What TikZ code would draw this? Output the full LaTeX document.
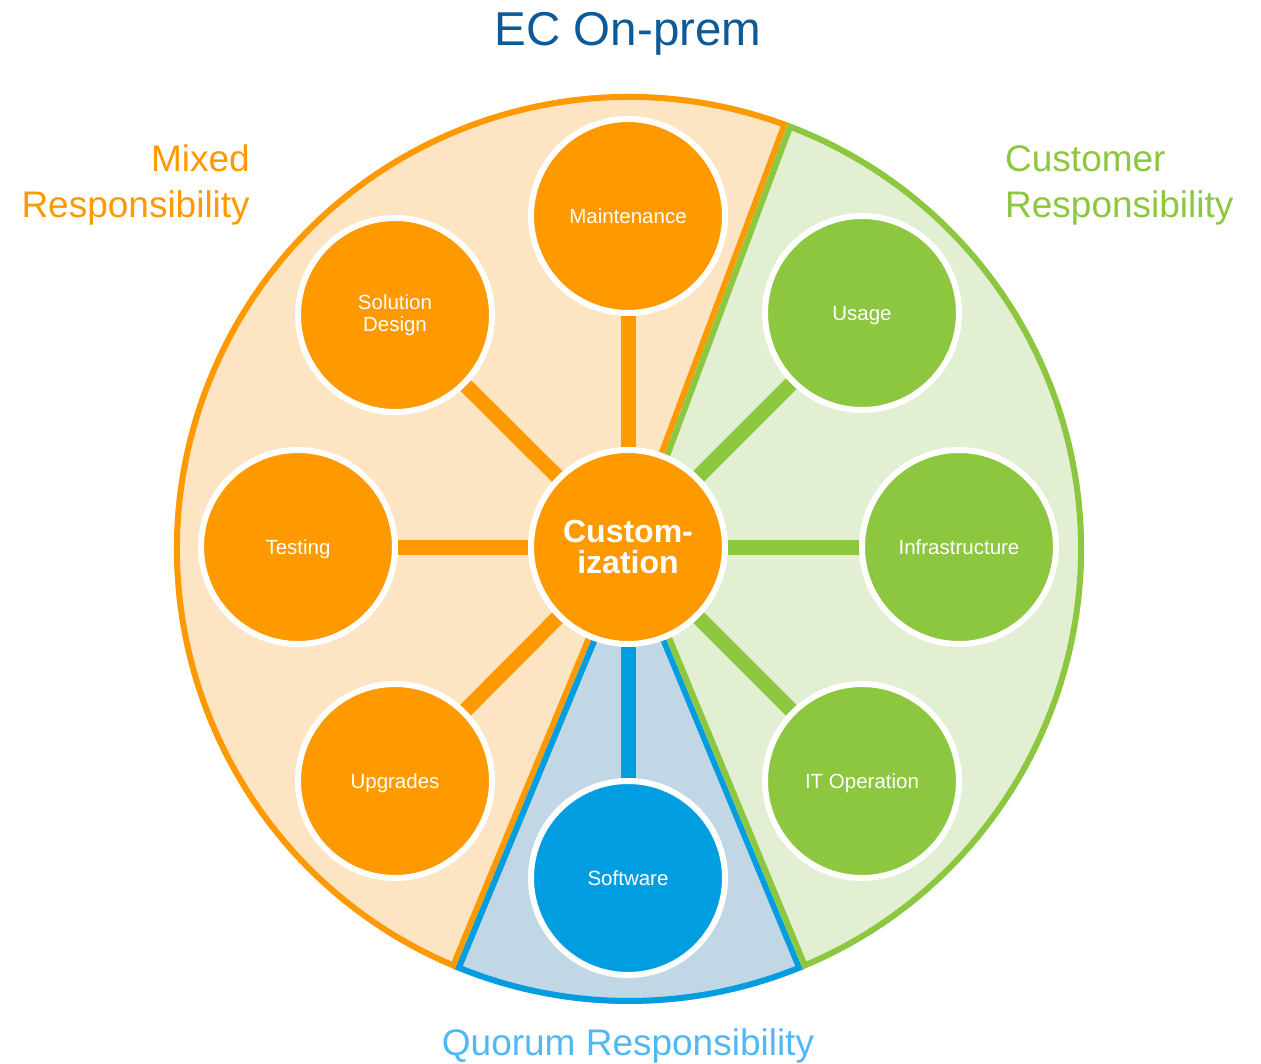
\documentclass[tikz,border=0pt]{standalone}
\usepackage{fontspec}
\setmainfont{Liberation Sans}
\definecolor{orline}{RGB}{255,153,0}
\definecolor{orfill}{RGB}{253,229,196}
\definecolor{grline}{RGB}{141,198,63}
\definecolor{grfill}{RGB}{226,239,211}
\definecolor{blline}{RGB}{0,158,224}
\definecolor{blfill}{RGB}{194,215,229}
\definecolor{titleblue}{RGB}{13,90,150}
\definecolor{quorumblue}{RGB}{80,185,245}
\pgfdeclarelayer{sectors}
\pgfdeclarelayer{spokes}
\pgfsetlayers{sectors,spokes,main}
\tikzset{
  bub/.style={circle, minimum size=194pt, inner sep=0pt, draw=white, line width=6pt,
    text=white, font=\fontsize{20.5}{22}\selectfont, align=center},
  oneline/.style={text height=15pt, text depth=0pt},
  spoke/.style={line width=15pt},
  grouplabel/.style={inner sep=0pt, font=\fontsize{37}{46}\selectfont}
}
\begin{document}
\begin{tikzpicture}[x=1pt,y=-1pt]
\useasboundingbox (0,0) rectangle (1261,1064);
\coordinate (c) at (629,549);

% circles
\node[bub, fill=orline, font=\bfseries\fontsize{32}{31}\selectfont] (cust) at (628,547) {Custom-\\ization};
\node[bub, oneline, fill=orline] (maint) at (628,216) {Maintenance};
\node[bub, fill=orline] (soldes) at (395,315) {Solution\\Design};
\node[bub, oneline, fill=orline] (test) at (298,547) {Testing};
\node[bub, oneline, fill=orline] (upg) at (395,781) {Upgrades};
\node[bub, oneline, fill=grline] (usage) at (862,313) {Usage};
\node[bub, oneline, fill=grline] (infra) at (959,547) {Infrastructure};
\node[bub, oneline, fill=grline] (itop) at (862,781) {IT Operation};
\node[bub, oneline, fill=blline] (soft) at (628,878) {Software};

% sectors
\begin{pgfonlayer}{sectors}
\begin{scope}
\clip (c) -- ++(-69.5:455) arc[start angle=-69.5,end angle=-247.5,radius=455] -- cycle;
\fill[orfill] (c) -- ++(-69.5:455) arc[start angle=-69.5,end angle=-247.5,radius=455] -- cycle;
\draw[orline, line width=12pt] (c) -- ++(-69.5:455) arc[start angle=-69.5,end angle=-247.5,radius=455] -- cycle;
\end{scope}
\begin{scope}
\clip (c) -- ++(-247.5:455) arc[start angle=-247.5,end angle=-292.5,radius=455] -- cycle;
\fill[blfill] (c) -- ++(-247.5:455) arc[start angle=-247.5,end angle=-292.5,radius=455] -- cycle;
\draw[blline, line width=12pt] (c) -- ++(-247.5:455) arc[start angle=-247.5,end angle=-292.5,radius=455] -- cycle;
\end{scope}
\begin{scope}
\clip (c) -- ++(67.5:455) arc[start angle=67.5,end angle=-69.5,radius=455] -- cycle;
\fill[grfill] (c) -- ++(67.5:455) arc[start angle=67.5,end angle=-69.5,radius=455] -- cycle;
\draw[grline, line width=12pt] (c) -- ++(67.5:455) arc[start angle=67.5,end angle=-69.5,radius=455] -- cycle;
\end{scope}
\end{pgfonlayer}

% spokes
\begin{pgfonlayer}{spokes}
\draw[spoke, orline] (cust) -- (maint);
\draw[spoke, orline] (cust) -- (soldes);
\draw[spoke, orline] (cust) -- (test);
\draw[spoke, orline] (cust) -- (upg);
\draw[spoke, grline] (cust) -- (usage);
\draw[spoke, grline] (cust) -- (infra);
\draw[spoke, grline] (cust) -- (itop);
\draw[spoke, blline] (cust) -- (soft);
\end{pgfonlayer}

% labels
\node[inner sep=0pt, anchor=base, text=titleblue, font=\fontsize{47.5}{50}\selectfont] (title) at (628,46) {EC On-prem};
\node[grouplabel, anchor=base east, text=orline] (mixed1) at (250,172) {Mixed};
\node[grouplabel, anchor=base east, text=orline] (mixed2) at (250,218) {Responsibility};
\node[grouplabel, anchor=base west, text=grline] (custr1) at (1005,172) {Customer};
\node[grouplabel, anchor=base west, text=grline] (custr2) at (1005,218) {Responsibility};
\node[grouplabel, anchor=base, text=quorumblue] (quorum) at (628,1055) {Quorum Responsibility};
\end{tikzpicture}
\end{document}
